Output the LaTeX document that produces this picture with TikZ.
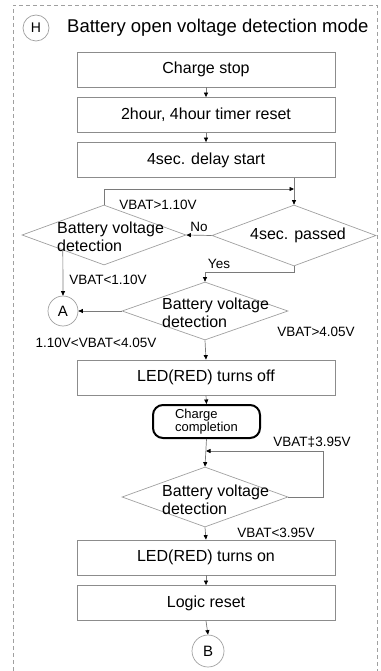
\documentclass[tikz,border=0pt]{standalone}
\usepackage{fontspec}
\setmainfont{Liberation Sans}
\usetikzlibrary{shapes.geometric,arrows.meta}
\definecolor{linegray}{HTML}{7A7A7A}
\definecolor{boxgray}{HTML}{8C8C8C}
\definecolor{diagray}{HTML}{A0A0A0}
\definecolor{txt}{HTML}{000000}
\tikzset{
  x=1pt,y=-1pt,
  stepbox/.style={draw=boxgray,line width=0.8pt,minimum width=258pt,minimum height=35pt,inner sep=0pt,text=txt,font=\fontsize{16}{18}\selectfont},
  decision/.style={draw=diagray,line width=0.7pt,shape=diamond,inner sep=0pt},
  dtext/.style={text=txt,font=\fontsize{16}{18}\selectfont,align=left,inner sep=0pt,anchor=west},
  conn/.style={circle,draw=diagray,line width=0.7pt,inner sep=0pt,text=txt},
  lbl/.style={text=txt,font=\fontsize{13.5}{15}\selectfont,inner sep=0pt},
  arr/.style={draw=linegray,line width=0.7pt,-{Triangle[length=4.5pt,width=4pt,color=black]}},
}
\begin{document}
\begin{tikzpicture}
\useasboundingbox (0,0) rectangle (380,671);
\draw[draw=diagray,line width=0.7pt,dash pattern=on 4pt off 3pt] (13,671) -- (13,5) -- (377,5) -- (377,671);
% header
\node[conn,minimum size=26pt,font=\fontsize{14}{16}\selectfont] (H) at (36,28) {H};
\node[text=txt,font=\fontsize{18.5}{20}\selectfont,anchor=west,inner sep=0pt] (title) at (67,28) {Battery open voltage detection mode};
% boxes
\node[stepbox] (cs) at (206,69.5) {Charge stop};
\node[stepbox] (tr) at (206,115) {2hour, 4hour timer reset};
\node[stepbox] (ds) at (206,160) {4sec. delay start};
% decisions
\node[decision,minimum width=164pt,minimum height=61pt] (d4) at (294,235.5) {};
\node[text=txt,font=\fontsize{16}{18}\selectfont,inner sep=0pt] (d4t) at (298,235) {4sec. passed};
\node[decision,minimum width=164pt,minimum height=60pt] (dl) at (104,235) {};
\node[dtext] (dlt) at (57,236.5) {Battery voltage\\detection};
\node[conn,minimum size=30pt,font=\fontsize{15}{17}\selectfont] (A) at (63,311) {A};
\node[decision,minimum width=166pt,minimum height=58pt] (dm) at (205,311) {};
\node[dtext] (dmt) at (162,312.5) {Battery voltage\\detection};
\node[stepbox] (loff) at (206,377.5) {LED(RED) turns off};
\node[draw=black,line width=2pt,rounded corners=10pt,minimum width=107pt,minimum height=33pt,inner sep=0pt,align=left,text=txt,font=\fontsize{13}{13}\selectfont] (cc) at (206.5,421.5) {Charge\\completion};
\node[decision,minimum width=166pt,minimum height=60pt] (db) at (205,497) {};
\node[dtext] (dbt) at (162,500) {Battery voltage\\detection};
\node[stepbox] (lon) at (206,557.5) {LED(RED) turns on};
\node[stepbox] (lr) at (206,603) {Logic reset};
\node[conn,minimum size=32pt,font=\fontsize{15}{17}\selectfont] (B) at (208,651) {B};
% junction coordinates
\coordinate (j1) at (294,189);
\coordinate (j2) at (206,451);
% connectors
\draw[arr] (cs.south) -- (tr.north);
\draw[arr] (tr.south) -- (ds.north);
\draw[arr] (d4.north |- ds.south) -- (d4.north);
\draw[arr] (dl.north) |- (j1);
\draw[arr] (d4.west) -- (dl.east) node[lbl,midway,above=3pt] (no) {No};
\draw[arr] (dl.south west) -- (A.north);
\draw[arr] (d4.south) -- ++(0,6) -| (dm.north);
\draw[arr] (dm.west) -- (A.east);
\draw[arr] (dm.south) -- (loff.north);
\draw[arr] (loff.south) -- (cc.north);
\draw[arr] (cc.south) -- (db.north);
\draw[arr] (db.east) -- ++(35,0) |- (j2);
\draw[arr] (db.south) -- (lon.north);
\draw[arr] (lon.south) -- (lr.north);
\draw[arr] (lr.south) -- (B.north);
% labels
\node[lbl] (l1) at (158,205) {VBAT>1.10V};
\node[lbl] (l2) at (108,280) {VBAT<1.10V};
\node[lbl] (l3) at (219,264) {Yes};
\node[lbl] (l4) at (316,332) {VBAT>4.05V};
\node[lbl] (l5) at (96,343) {1.10V<VBAT<4.05V};
\node[lbl] (l6) at (312,442) {VBAT‡3.95V};
\node[lbl] (l7) at (276,533) {VBAT<3.95V};
\end{tikzpicture}
\end{document}
